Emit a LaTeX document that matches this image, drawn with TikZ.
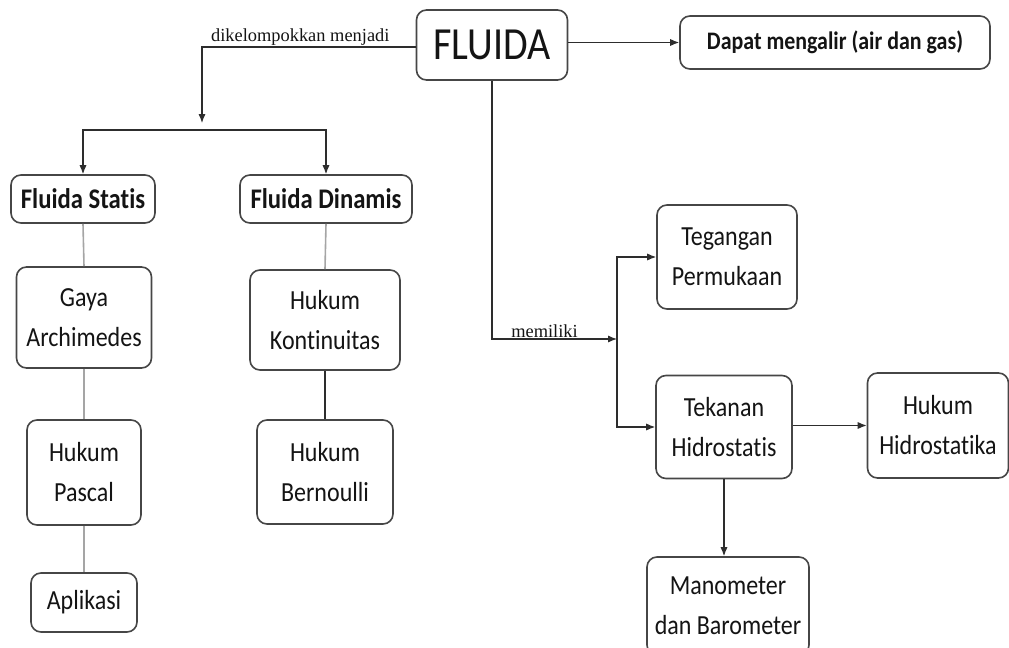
\documentclass[tikz,border=0pt]{standalone}
\usepackage{fontspec}
\setmainfont{Carlito}[FakeStretch=0.87, Ligatures=NoCommon]
\newfontfamily\labelfont{Liberation Serif}
\usepackage{xcolor}
\usepackage{tikz}
\usetikzlibrary{arrows.meta, calc}
\definecolor{ink}{RGB}{20,20,20}
\definecolor{frame}{RGB}{70,70,70}
\definecolor{wire}{RGB}{45,45,45}
\definecolor{faint}{RGB}{165,165,165}
\tikzset{
  box/.style      ={rectangle, rounded corners=5pt, draw=frame, line width=0.8pt,
                    fill=white, inner sep=2pt, align=center, text=ink,
                    font=\fontsize{13.8}{20}\selectfont},
  headbox/.style  ={box, font=\fontsize{14.2}{16}\selectfont\bfseries},
  arr/.style      ={-{Latex[length=4.5pt, width=3.6pt]}, line width=0.6pt, color=wire},
  plain/.style    ={line width=0.6pt, color=wire},
  greyline/.style ={line width=0.8pt, color=faint},
  linklabel/.style={font=\labelfont\fontsize{9.2}{10}\selectfont, color=ink, inner sep=0.5pt},
}
\begin{document}
\begin{tikzpicture}[x=0.5pt, y=-0.5pt]
\useasboundingbox (0,0) rectangle (1009,648);
\clip (0,0) rectangle (1009,648);

% top
\node[box, font=\fontsize{23}{26}\selectfont, minimum width=75.5pt, minimum height=35pt] (fluida) at (492,45) {FLUIDA};
\node[headbox, font=\fontsize{12.6}{15}\selectfont\bfseries, minimum width=155pt, minimum height=26.5pt] (dapat) at (835,42.5)
  {Dapat mengalir (air dan gas)};

% fluida statis / dinamis
\node[headbox, minimum width=72pt, minimum height=24pt] (statis) at (83,199) {Fluida Statis};
\node[headbox, minimum width=86pt, minimum height=24pt] (dinamis) at (326,199) {Fluida Dinamis};
\node[box, minimum width=67.5pt, minimum height=50.5pt] (archimedes) at (84,317.5) {Gaya\\Archimedes};
\node[box, minimum width=57pt, minimum height=52.5pt] (pascal) at (84,472.5) {Hukum\\Pascal};
\node[box, minimum width=53pt, minimum height=29.5pt] (aplikasi) at (84,602.5) {Aplikasi};
\node[box, minimum width=75pt, minimum height=50pt] (kontinuitas) at (325,320) {Hukum\\Kontinuitas};
\node[box, minimum width=68pt, minimum height=52pt] (bernoulli) at (325,472) {Hukum\\Bernoulli};

% right branch
\node[box, minimum width=70pt, minimum height=52pt] (tegangan) at (727,257) {Tegangan\\Permukaan};
\node[box, minimum width=68pt, minimum height=51.5pt] (tekanan) at (724,427) {Tekanan\\Hidrostatis};
\node[box, minimum width=70.5pt, minimum height=52.5pt] (hidrostatika) at (938,425.5) {Hukum\\Hidrostatika};
\node[box, minimum width=81pt, minimum height=49pt] (manometer) at (728,606) {Manometer\\dan Barometer};

\coordinate (split) at (202,123);
\coordinate (fork) at (202,130);
\coordinate (hub) at (617,339);

\draw[arr] (fluida.east |- dapat.west) -- (dapat.west);
\draw[arr] (fluida.west |- 0,47) -| (split)
  node[linklabel, pos=0.27, above] {dikelompokkan menjadi};
\draw[arr] (fork) -| (statis.north);
\draw[arr] (fork) -| (dinamis.north);

\draw[greyline] (statis.south) -- (archimedes.north);
\draw[greyline] (archimedes.south) -- (pascal.north);
\draw[greyline] (pascal.south) -- (aplikasi.north);
\draw[greyline] (dinamis.south) -- (kontinuitas.north);
\draw[plain] (kontinuitas.south) -- (bernoulli.north);

\draw[arr] (fluida.south) |- (hub)
  node[linklabel, pos=0.71, above] {memiliki};
\draw[arr] (hub) |- (tegangan.west);
\draw[arr] (hub) |- (tekanan.west);
\draw[arr] (tekanan.east |- hidrostatika.west) -- (hidrostatika.west);
\draw[arr] (tekanan.south) -- (tekanan.south |- manometer.north);
\end{tikzpicture}
\end{document}
